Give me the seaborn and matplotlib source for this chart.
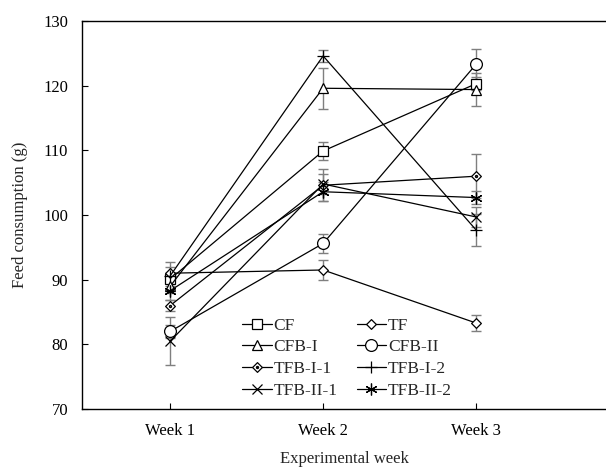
import numpy as np
import pandas as pd
import matplotlib
matplotlib.use("Agg")
import matplotlib.pyplot as plt
import seaborn as sns
from matplotlib.path import Path

weeks = ["Week 1", "Week 2", "Week 3"]
series_names = ["CF", "TF", "CFB-I", "CFB-II", "TFB-I-1", "TFB-I-2", "TFB-II-1", "TFB-II-2"]

CF = [90.1, 109.9, 120.3]
TF = [91.0, 91.5, 83.3]
CFB_I = [89.0, 119.6, 119.4]
CFB_II = [82.0, 95.6, 123.3]
TFB_I_1 = [86.0, 104.6, 106.0]
TFB_I_2 = [90.6, 124.6, 97.7]
TFB_II_1 = [80.5, 104.8, 99.7]
TFB_II_2 = [88.3, 103.6, 102.7]

CF_err = [1.0, 1.4, 1.0]
TF_err = [1.0, 1.5, 1.3]
CFB_I_err = [1.0, 3.2, 2.6]
CFB_II_err = [1.0, 1.4, 2.4]
TFB_I_1_err = [0.8, 2.5, 3.4]
TFB_I_2_err = [2.2, 0.9, 2.5]
TFB_II_1_err = [3.7, 1.5, 1.5]
TFB_II_2_err = [1.5, 1.5, 1.0]

values = [CF, TF, CFB_I, CFB_II, TFB_I_1, TFB_I_2, TFB_II_1, TFB_II_2]
errors = [CF_err, TF_err, CFB_I_err, CFB_II_err, TFB_I_1_err, TFB_I_2_err, TFB_II_1_err, TFB_II_2_err]

rows = []
for name, vals, errs in zip(series_names, values, errors):
    for i, (w, v, e) in enumerate(zip(weeks, vals, errs)):
        rows.append({"series": name, "week": w, "x": i + 1, "value": v, "err": e})
df = pd.DataFrame(rows)

sns.set_style("ticks")
plt.rcParams["font.family"] = ["Liberation Serif", "DejaVu Serif"]

# diamond (optionally with a dot) marker
diamond = Path([(0, 1), (1, 0), (0, -1), (-1, 0), (0, 1)],
               [Path.MOVETO, Path.LINETO, Path.LINETO, Path.LINETO, Path.CLOSEPOLY])
dot = Path.circle((0, 0), 0.22)
diamond_dot = Path.make_compound_path(diamond, dot)

markers = {
    "CF": "s", "TF": diamond, "CFB-I": "^", "CFB-II": "o",
    "TFB-I-1": diamond_dot, "TFB-I-2": "+", "TFB-II-1": "x", "TFB-II-2": (6, 2, 0),
}
sizes = {"CF": 7, "TF": 7, "CFB-I": 7.5, "CFB-II": 8.5, "TFB-I-1": 7,
         "TFB-I-2": 9, "TFB-II-1": 7.5, "TFB-II-2": 8.5}

fig = plt.figure(figsize=(6.06, 4.69), dpi=100)
ax = fig.add_axes([0.1353, 0.1279, 0.8647, 0.8273])

for name in series_names:
    d = df[df["series"] == name]
    ax.errorbar(d["x"], d["value"], yerr=d["err"], fmt="none", ecolor="#7f7f7f",
                elinewidth=1.0, capsize=3.5, capthick=1.0, zorder=1)

n_before = len(ax.get_lines())
palette = {n: "black" for n in series_names}
sns.lineplot(data=df, x="x", y="value", hue="series", hue_order=series_names,
             palette=palette, ax=ax, linewidth=0.9, legend=False, sort=False,
             errorbar=None, zorder=3)

new_lines = ax.get_lines()[n_before:]
handles = []
for line, name in zip(new_lines, series_names):
    line.set_marker(markers[name])
    line.set_markersize(sizes[name])
    line.set_markerfacecolor("white")
    line.set_markeredgecolor("black")
    line.set_markeredgewidth(0.9)
    line.set_label(name)
    handles.append(line)

ax.set_xlim(0.423, 3.85)
ax.set_ylim(70, 130)
ax.set_xticks([1, 2, 3])
ax.set_xticklabels(weeks)
ax.set_yticks(np.arange(70, 131, 10))
ax.tick_params(direction="in", length=4, width=0.8, labelsize=12, colors="black")
ax.tick_params(axis="y", pad=10)
ax.tick_params(axis="x", pad=10)
for s in ["left", "bottom", "top"]:
    ax.spines[s].set_linewidth(1.0)
    ax.spines[s].set_color("black")
ax.spines["right"].set_visible(False)

ax.set_xlabel("Experimental week", fontsize=12, labelpad=9)
ax.set_ylabel("Feed consumption (g)", fontsize=12, labelpad=11)

order = [0, 2, 4, 6, 1, 3, 5, 7]
leg = ax.legend([handles[i] for i in order], [series_names[i] for i in order],
                ncol=2, frameon=False, loc="upper left",
                bbox_to_anchor=(0.305, 0.236), fontsize=12.5,
                handlelength=1.72, handletextpad=0.1, columnspacing=1.1,
                labelspacing=0.33, borderaxespad=0, borderpad=0)

fig.savefig("out.png", dpi=100)
